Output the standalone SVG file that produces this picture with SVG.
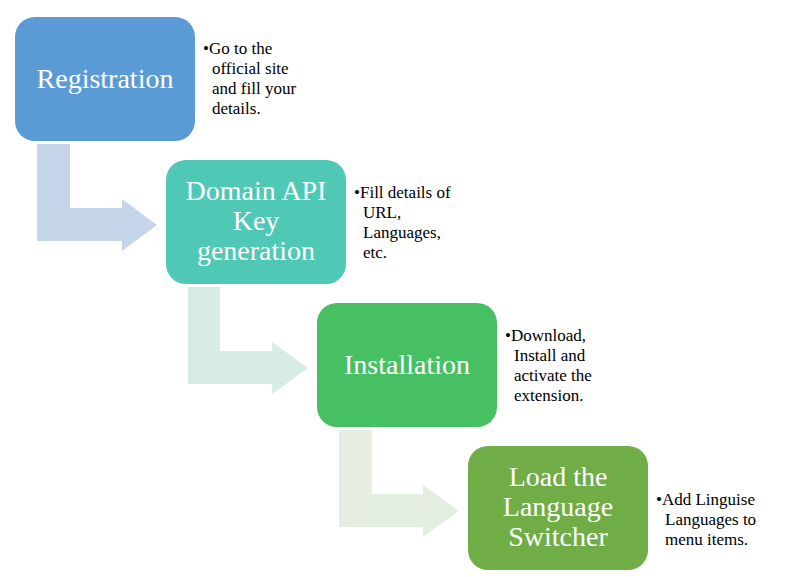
<svg xmlns="http://www.w3.org/2000/svg" width="790" height="577" viewBox="0 0 790 577">
<style>
.box{stroke:none}
.t{font-family:"Liberation Serif",serif;font-size:28px;fill:#fff;text-anchor:middle}
.b{font-family:"Liberation Serif",serif;font-size:17px;fill:#000}
</style>
<rect width="790" height="577" fill="#fff"/>
<g id="connectors">
<path d="M37,144 H70 V208 H122 V199 L157,225 L122,251 V241 H37 Z" fill="#C5D6EB"/>
<path d="M188,287 H220 V351 H272 V342 L308,368 L272,394 V384 H188 Z" fill="#D6ECE5"/>
<path d="M339,430 H372 V494 H423 V485 L459,511 L423,537 V527 H339 Z" fill="#E4EFE2"/>
</g>
<g id="n1"><rect class="box" x="15" y="17" width="180" height="124" rx="20" fill="#5B9BD5"/>
<text class="t" x="105" y="88">Registration</text></g>
<g id="n1t"><text class="b" x="203" y="54">•Go to the</text><text class="b" x="212" y="74">official site</text><text class="b" x="212" y="94">and fill your</text><text class="b" x="212" y="114">details.</text></g>
<g id="n2"><rect class="box" x="166" y="160" width="180" height="124" rx="20" fill="#4FC9B5"/>
<text class="t" x="256" y="200">Domain API</text><text class="t" x="256" y="230">Key</text><text class="t" x="256" y="260">generation</text></g>
<g id="n2t"><text class="b" x="354" y="198">•Fill details of</text><text class="b" x="363" y="218">URL,</text><text class="b" x="363" y="238">Languages,</text><text class="b" x="363" y="258">etc.</text></g>
<g id="n3"><rect class="box" x="317" y="303" width="180" height="124" rx="20" fill="#47BF63"/>
<text class="t" x="407" y="374">Installation</text></g>
<g id="n3t"><text class="b" x="505" y="341">•Download,</text><text class="b" x="514" y="361">Install and</text><text class="b" x="514" y="381">activate the</text><text class="b" x="514" y="401">extension.</text></g>
<g id="n4"><rect class="box" x="468" y="446" width="180" height="124" rx="20" fill="#70AD47"/>
<text class="t" x="558" y="486">Load the</text><text class="t" x="558" y="516">Language</text><text class="t" x="558" y="546">Switcher</text></g>
<g id="n4t"><text class="b" x="656" y="505">•Add Linguise</text><text class="b" x="665" y="525">Languages to</text><text class="b" x="665" y="545">menu items.</text></g>
</svg>
